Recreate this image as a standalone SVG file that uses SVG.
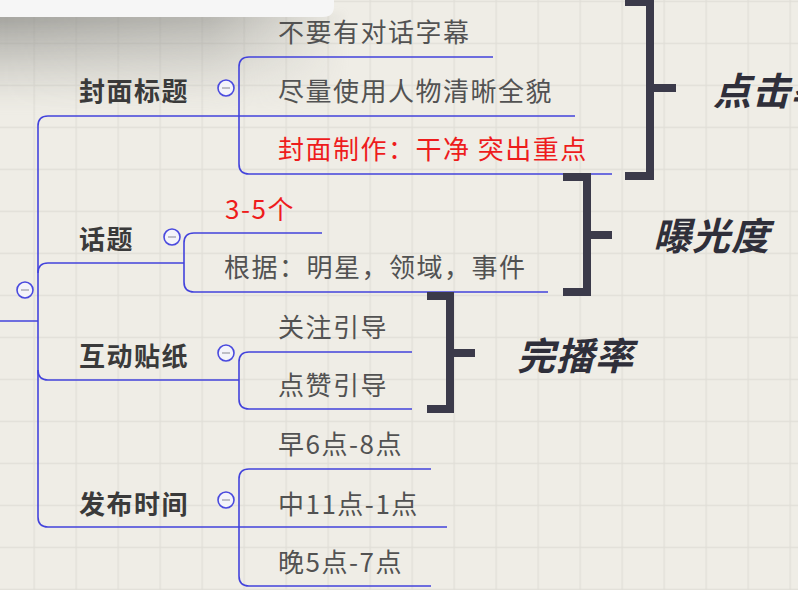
<svg xmlns="http://www.w3.org/2000/svg" width="798" height="590" viewBox="0 0 798 590">
<defs>
<pattern id="grid" patternUnits="userSpaceOnUse" x="33.5" y="0.7" width="42" height="42">
<rect width="42" height="42" fill="#efede6"/>
<path d="M0,0 H42 M0,0 V42" stroke="#e0ded7" stroke-width="2.5" fill="none"/>
</pattern>
<linearGradient id="shade" x1="0" y1="0" x2="0" y2="1">
<stop offset="0" stop-color="#8a8a86" stop-opacity="0.8"/>
<stop offset="0.45" stop-color="#a0a09b" stop-opacity="0.45"/>
<stop offset="1" stop-color="#c0c0bb" stop-opacity="0"/>
</linearGradient>
<linearGradient id="shadeH" x1="0" y1="0" x2="1" y2="0">
<stop offset="0" stop-color="#fff" stop-opacity="1"/>
<stop offset="0.6" stop-color="#fff" stop-opacity="0.75"/>
<stop offset="1" stop-color="#fff" stop-opacity="0"/>
</linearGradient>
<mask id="shadeMask" maskUnits="userSpaceOnUse" x="0" y="0" width="360" height="130">
<rect x="0" y="0" width="350" height="130" fill="url(#shadeH)"/>
</mask>
<filter id="soft" x="-10%" y="-10%" width="120%" height="120%">
<feGaussianBlur stdDeviation="3"/>
</filter>
<style>
.ln{fill:none;stroke:#4343dc;stroke-width:1.6}
.br{fill:none;stroke:#3b3a4a;stroke-width:8;stroke-linejoin:miter}
.parent{font-family:"Noto Sans CJK SC","Noto Sans",sans-serif;font-size:26px;font-weight:bold;fill:#3a3a3a;letter-spacing:1.5px;dominant-baseline:central}
.child{font-family:"Noto Sans CJK SC","Noto Sans",sans-serif;font-size:26px;fill:#525252;letter-spacing:1.5px;dominant-baseline:central}
.red{fill:#ee1c1c}
.big{font-family:"Noto Sans CJK SC","Noto Sans",sans-serif;font-size:38px;font-weight:bold;font-style:italic;fill:#2f2f3a;dominant-baseline:central;letter-spacing:1px}
.tg circle{fill:#f4f4fa;stroke:#4a4ade;stroke-width:1.6}
.tg path{stroke:#b0b0b8;stroke-width:1.6}
</style>
</defs>
<rect width="798" height="590" fill="url(#grid)"/>
<g id="overlay">
<g mask="url(#shadeMask)"><rect x="-10" y="12" width="360" height="100" fill="url(#shade)" filter="url(#soft)"/></g>
<path d="M0,0 H334 V6 Q334,17 323,17 H0 Z" fill="#f6f6f6"/>
</g>

<g id="connectors">
<path class="ln" d="M0,321 H38"/>
<path class="ln" d="M38,126 V517"/>
<path class="ln" d="M38,126 Q38,116 48,116 H575"/>
<path class="ln" d="M38,273 Q38,263 48,263 H184"/>
<path class="ln" d="M38,370 Q38,380 48,380 H239"/>
<path class="ln" d="M38,517 Q38,527 48,527 H447"/>
<path class="ln" d="M493,57 H249 Q239,57 239,67 V164 Q239,174 249,174 H612"/>
<path class="ln" d="M322,233 H194 Q184,233 184,243 V282 Q184,292 194,292 H548"/>
<path class="ln" d="M412,352 H249 Q239,352 239,362 V399 Q239,409 249,409 H412"/>
<path class="ln" d="M431,469 H249 Q239,469 239,479 V576 Q239,586 249,586 H431"/>
</g>

<g id="root-toggle" class="tg"><circle cx="25" cy="290" r="8"/><path d="M21,290 H29"/></g>

<g id="node-fengmian">
<text class="parent" x="79" y="89">封面标题</text>
<g class="tg"><circle cx="226" cy="88" r="8"/><path d="M222,88 H230"/></g>
</g>
<g id="node-fm1"><text class="child" x="278" y="30">不要有对话字幕</text></g>
<g id="node-fm2"><text class="child" x="278" y="89">尽量使用人物清晰全貌</text></g>
<g id="node-fm3"><text class="child red" x="278" y="147">封面制作：干净 突出重点</text></g>

<g id="node-huati">
<text class="parent" x="79" y="237">话题</text>
<g class="tg"><circle cx="172" cy="237" r="8"/><path d="M168,237 H176"/></g>
</g>
<g id="node-ht1"><text class="child red" x="225" y="207" letter-spacing="1">3-5个</text></g>
<g id="node-ht2"><text class="child" x="224" y="265">根据：明星，领域，事件</text></g>

<g id="node-hudong">
<text class="parent" x="79" y="354">互动贴纸</text>
<g class="tg"><circle cx="226" cy="353" r="8"/><path d="M222,353 H230"/></g>
</g>
<g id="node-hd1"><text class="child" x="278" y="325">关注引导</text></g>
<g id="node-hd2"><text class="child" x="278" y="383">点赞引导</text></g>

<g id="node-fabu">
<text class="parent" x="79" y="502">发布时间</text>
<g class="tg"><circle cx="226" cy="500" r="8"/><path d="M222,500 H230"/></g>
</g>
<g id="node-fb1"><text class="child" x="278" y="442" letter-spacing="1">早6点-8点</text></g>
<g id="node-fb2"><text class="child" x="278" y="502" letter-spacing="1">中11点-1点</text></g>
<g id="node-fb3"><text class="child" x="278" y="560" letter-spacing="1">晚5点-7点</text></g>

<g id="summary-dianji">
<path class="br" d="M625,2 H650 V176 H625 M650,88 H676"/>
<text class="big" x="713" y="88">点击率</text>
</g>
<g id="summary-baoguang">
<path class="br" d="M563,177 H587 V292 H563 M587,235 H612"/>
<text class="big" x="653" y="233">曝光度</text>
</g>
<g id="summary-wanbo">
<path class="br" d="M427,296 H450 V409 H427 M450,353 H475"/>
<text class="big" x="517" y="353">完播率</text>
</g>
</svg>
